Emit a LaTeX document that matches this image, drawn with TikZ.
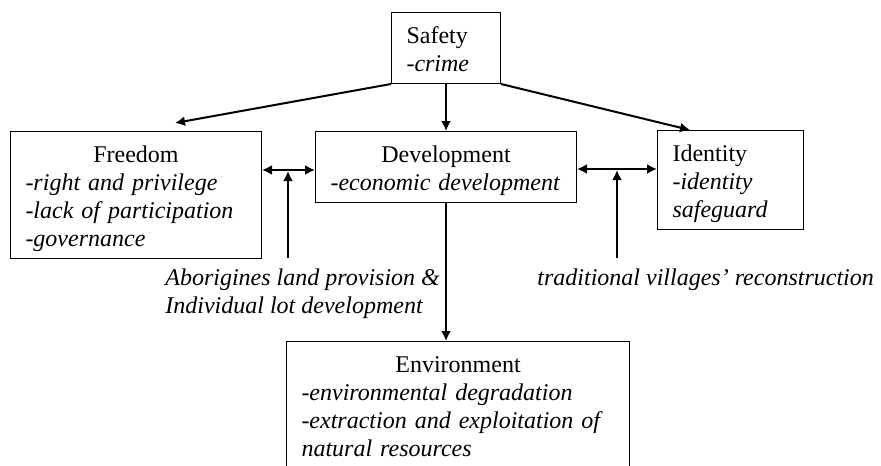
\documentclass[tikz,border=0pt]{standalone}
\usepackage{fontspec}
\setmainfont{Liberation Serif}
\usetikzlibrary{arrows.meta}
\newcommand{\tstrut}{\rule{0pt}{15.5pt}}
\newcommand{\bstrut}{\rule[-6pt]{0pt}{6pt}}
\tikzset{
  box/.style={draw, line width=0.5pt, inner xsep=7.5pt, inner ysep=0pt,
    anchor=north west, align=left, font=\fontsize{12}{14}\selectfont},
  lbl/.style={inner sep=0pt, align=left, font=\fontsize{12}{14}\selectfont\itshape},
  arr/.style={line width=1pt, -{Latex[length=5pt,width=5pt]}},
  darr/.style={line width=1pt, {Latex[length=5pt,width=5pt]}-{Latex[length=5pt,width=5pt]}}
}
\begin{document}
\begin{tikzpicture}[x=0.5pt,y=-0.5pt]
\useasboundingbox (0,0) rectangle (881,465);
\clip (0,0) rectangle (881,465);

% the five boxes
\node[box, text width=39.5pt] (safety) at (391,12)
  {\tstrut Safety\\ \itshape -crime\bstrut};
\node[box, text width=110.5pt] (freedom) at (10,131)
  {{\centering\tstrut Freedom\par}\itshape -right and privilege\\ -lack of participation\\ -governance\bstrut};
\node[box, text width=115.5pt] (dev) at (315,131)
  {{\centering\tstrut Development\par}\itshape -economic development\bstrut};
\node[box, text width=58pt] (ident) at (657,130)
  {\tstrut Identity\\ \itshape -identity\\ safeguard\bstrut};
\node[box, text width=156.5pt] (env) at (286,341)
  {{\centering\tstrut Environment\par}\itshape -environmental degradation\\ -extraction and exploitation of\\ natural resources\bstrut};

% labels
\node[lbl, anchor=base west] (land) at (165,313)
  {Aborigines land provision \&\\ Individual lot development};
\node[lbl, anchor=base west] (village) at (537,285)
  {traditional villages' reconstruction};

% free ends
\coordinate (fr-tip) at (175,123);
\coordinate (id-tip) at (690,130);
\coordinate (fd-mid) at (288,170);
\coordinate (di-mid) at (617,169);
\coordinate (land-end) at (288,258);
\coordinate (village-end) at (617,258);

\draw[arr] (safety.south west) -- (fr-tip);
\draw[arr] (safety.south) -- (dev.north);
\draw[arr] (safety.south east) -- (id-tip);
\draw[darr] (freedom.east |- fd-mid) -- (dev.west |- fd-mid);
\draw[darr] (dev.east |- di-mid) -- (ident.west |- di-mid);
\draw[arr] (land-end) -- ([yshift=-0.5pt]fd-mid);
\draw[arr] (village-end) -- ([yshift=-0.5pt]di-mid);
\draw[arr] (dev.south) -- (dev.south |- env.north);
\end{tikzpicture}
\end{document}
